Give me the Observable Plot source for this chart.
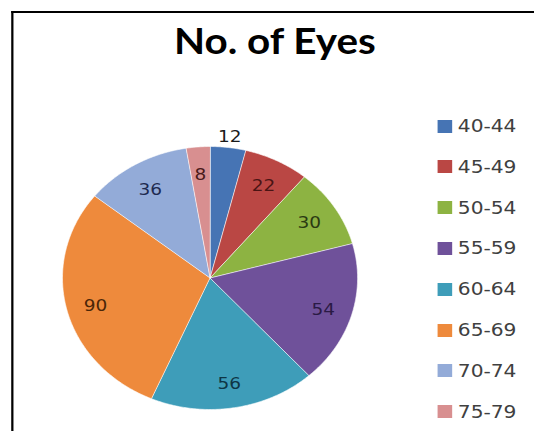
<!DOCTYPE html>
<html>
<head>
<meta charset="utf-8">
<script src="https://cdn.jsdelivr.net/npm/d3@7"></script>
<script src="https://cdn.jsdelivr.net/npm/@observablehq/plot@0.6"></script>
<style>
  html, body { margin: 0; padding: 0; background: #fff; overflow: hidden; width: 534px; height: 431px; }
  #wrap { position: absolute; left: 0; top: 0; width: 476px; height: 431px; transform: scaleX(1.122); transform-origin: 0 0; }
  #frame { position: absolute; left: 10px; top: 11px; width: 700px; height: 700px; border-left: 2px solid #000; border-top: 2px solid #000; }
  #title { position: absolute; left: 0; width: 490px; top: 22px; text-align: center; font-family: Lato, sans-serif; font-weight: 700; font-size: 36px; line-height: 36px; color: #000; }
  #chart { position: absolute; left: 0; top: 0; }
  .item { position: absolute; left: 390px; height: 18px; display: flex; align-items: center; font-family: "DejaVu Sans", sans-serif; font-size: 18px; line-height: 18px; color: #404040; }
  .sw { width: 13px; height: 13px; margin-right: 5px; }
</style>
</head>
<body>
<div id="wrap">
  <div id="frame"></div>
  <div id="title">No. of Eyes</div>
  <div id="chart"></div>
  <div id="legend"></div>
</div>
<script>
const categories = ["40-44", "45-49", "50-54", "55-59", "60-64", "65-69", "70-74", "75-79"];
const values = [12, 22, 30, 54, 56, 90, 36, 8];
const colors = ["#4674B4", "#BA4744", "#8DB342", "#6F519A", "#3E9DB9", "#EE8A3C", "#93ABD8", "#D88F90"];
const labelColors = ["#1a1a1a", "#4a1414", "#2b3a12", "#2a1a45", "#0e3545", "#4a2608", "#1e2a50", "#4a1a1a"];
const outsideLabels = ["40-44"];

const rows = categories.map((c, i) => ({category: c, value: values[i], color: colors[i], labelColor: labelColors[i]}));
const arcs = d3.pie().sort(null).value(d => d.value).startAngle(0).endAngle(2 * Math.PI)(rows);

const cx = 186.7, cy = 277.5, r = 131.5;

const slices = arcs.map(a => {
  const pts = [{x: 0, y: 0}];
  const n = Math.max(2, Math.ceil((a.endAngle - a.startAngle) / 0.01));
  for (let k = 0; k <= n; k++) {
    const t = a.startAngle + (a.endAngle - a.startAngle) * k / n;
    pts.push({x: Math.sin(t), y: Math.cos(t)});
  }
  return {color: a.data.color, points: pts};
});

const labels = arcs.map(a => {
  const m = (a.startAngle + a.endAngle) / 2;
  const rr = outsideLabels.includes(a.data.category) ? 1.1 : 0.8;
  return {x: rr * Math.sin(m), y: rr * Math.cos(m), text: String(a.data.value), color: a.data.labelColor};
});

const chart = Plot.plot({
  width: 476,
  height: 431,
  margin: 0,
  x: {domain: [-1, 1], range: [cx - r, cx + r], axis: null},
  y: {domain: [-1, 1], range: [cy + r, cy - r], axis: null},
  color: {type: "identity"},
  style: {background: "transparent", overflow: "visible"},
  marks: [
    ...slices.map(s => Plot.line(s.points, {x: "x", y: "y", fill: s.color, stroke: "#ffffff", strokeWidth: 0.8, strokeOpacity: 0.7, curve: "linear-closed"})),
    Plot.text(labels, {x: "x", y: "y", text: "text", fill: "color", fontSize: 16.5, dy: 2, fontFamily: "DejaVu Sans, sans-serif"})
  ]
});
document.getElementById("chart").appendChild(chart);

const legend = document.getElementById("legend");
categories.forEach((c, i) => {
  const item = document.createElement("div");
  item.className = "item";
  item.style.top = (117 + i * 40.8) + "px";
  const sw = document.createElement("div");
  sw.className = "sw";
  sw.style.background = colors[i];
  const tx = document.createElement("span");
  tx.textContent = c;
  item.appendChild(sw);
  item.appendChild(tx);
  legend.appendChild(item);
});
</script>
</body>
</html>
